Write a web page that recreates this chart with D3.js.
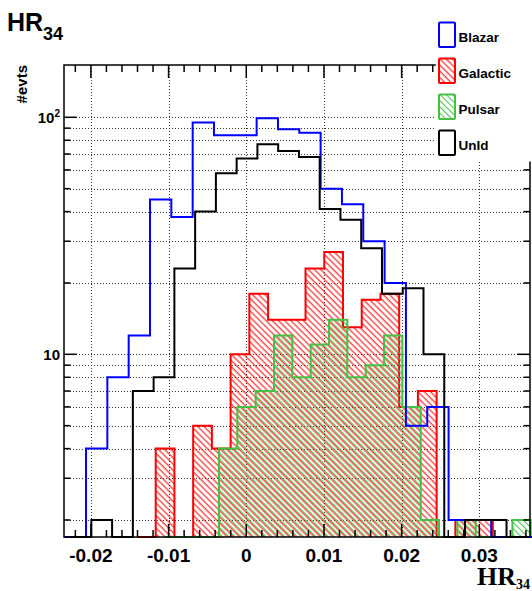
<!DOCTYPE html>
<html><head><meta charset="utf-8">
<script src="https://cdn.jsdelivr.net/npm/d3@7"></script>
<style>
html,body{margin:0;padding:0;background:#fff;}
svg{display:block;}
text{font-family:"Liberation Sans",Arial,Helvetica,sans-serif;font-weight:bold;}
</style></head>
<body>
<script>
// ---- data ----
const xTickValues = [-0.02, -0.01, 0, 0.01, 0.02, 0.03];
const xTickLabels = ["-0.02", "-0.01", "0", "0.01", "0.02", "0.03"];
const yMajorTicks = [10, 100];
const yMajorLabels = ["10", "10"];
const yMajorSup = ["", "2"];
const seriesNames = ["Blazar", "Galactic", "Pulsar", "UnId"];

// each histogram has its own binning: first low edge, bin width, counts
const blazarStart = -0.02337, blazarWidth = 0.002745;
const blazarCounts = [0, 4, 8, 12, 45, 38, 95, 84, 84, 99, 89, 86, 50, 43, 30, 20, 5, 6, 2, 2, 0, 0];

const galacticStart = -0.014067, galacticWidth = 0.0024106;
const galacticCounts = [0, 4, 0, 5, 4, 10, 18, 14, 14, 23, 27, 13, 17, 18, 6, 7, 0, 2, 2];

const pulsarStart = -0.010592, pulsarWidth = 0.0023604;
const pulsarCounts = [0, 0, 0, 4, 6, 7, 12, 8, 11, 14, 8, 9, 12, 6, 2, 0, 2, 0, 0, 2];

const unidStart = -0.022613, unidWidth = 0.002672;
const unidCounts = [0, 2, 0, 7, 8, 23, 40, 58, 67, 77, 72, 68, 41, 37, 28, 18, 19, 10, 0, 2, 2, 0];

// ---- layout ----
const W = 532, H = 591;
const L = 64, R = 530, T = 65, B = 537;
const xDomain = [-0.02346, 0.03652];
const yDomain = [1.695, 166.2];

const svg = d3.select("body").append("svg").attr("width", W).attr("height", H);
svg.append("rect").attr("width", W).attr("height", H).attr("fill", "#fff");

const x = d3.scaleLinear().domain(xDomain).range([L, R]);
const y = d3.scaleLog().domain(yDomain).range([B, T]);

const defs = svg.append("defs");
function hatch(id, color, off) {
  const p = defs.append("pattern").attr("id", id).attr("patternUnits", "userSpaceOnUse")
    .attr("width", 4.4).attr("height", 10).attr("patternTransform", "rotate(-45)");
  p.append("line").attr("x1", off).attr("x2", off).attr("y1", -1).attr("y2", 11)
    .attr("stroke", color).attr("stroke-width", 1);
}
const RED = "#ff0000", GREEN = "#44c044", BLUE = "#0000ff", BLACK = "#000000";
hatch("hRed", RED, 1.0);
hatch("hGreen", GREEN, 2.3);

// ---- grid ----
const grid = svg.append("g").attr("stroke", "#333").attr("stroke-width", 1).attr("stroke-dasharray", "1,2");
const yGridVals = [2,3,4,5,6,7,8,9,10,20,30,40,50,60,70,80,90,100];
const legendLeft = 435, legendBottom = 162;
yGridVals.forEach(v => {
  const yy = Math.round(y(v)) + 0.5;
  const xr = yy < legendBottom ? legendLeft : R;
  grid.append("line").attr("x1", L).attr("x2", xr).attr("y1", yy).attr("y2", yy);
});
xTickValues.forEach(v => {
  const xx = Math.round(x(v)) + 0.5;
  const yt = xx > legendLeft ? legendBottom : T;
  grid.append("line").attr("x1", xx).attr("x2", xx).attr("y1", yt).attr("y2", B);
});

// ---- histograms ----
function histPath(start, width, counts) {
  const yc = c => (c >= yDomain[0] ? Math.max(T, y(c)) : B);
  let d = `M${x(start)},${B}`;
  counts.forEach((c, i) => {
    d += `L${x(start + i * width)},${yc(c)}L${x(start + (i + 1) * width)},${yc(c)}`;
  });
  d += `L${x(start + counts.length * width)},${B}`;
  return d;
}
const hg = svg.append("g");
hg.append("path").attr("d", histPath(galacticStart, galacticWidth, galacticCounts) + "Z")
  .attr("fill", "url(#hRed)").attr("stroke", "none");
hg.append("path").attr("d", histPath(galacticStart, galacticWidth, galacticCounts))
  .attr("fill", "none").attr("stroke", RED).attr("stroke-width", 2);
hg.append("path").attr("d", histPath(pulsarStart, pulsarWidth, pulsarCounts) + "Z")
  .attr("fill", "url(#hGreen)").attr("stroke", "none");
hg.append("path").attr("d", histPath(pulsarStart, pulsarWidth, pulsarCounts))
  .attr("fill", "none").attr("stroke", GREEN).attr("stroke-width", 2);
hg.append("path").attr("d", histPath(blazarStart, blazarWidth, blazarCounts))
  .attr("fill", "none").attr("stroke", BLUE).attr("stroke-width", 2);
hg.append("path").attr("d", histPath(unidStart, unidWidth, unidCounts))
  .attr("fill", "none").attr("stroke", BLACK).attr("stroke-width", 2);

// ---- frame and ticks ----
const fr = svg.append("g").attr("stroke", "#000").attr("stroke-width", 1.5).attr("fill", "none");
fr.append("rect").attr("x", L).attr("y", T).attr("width", R - L).attr("height", B - T);
const minorX = d3.range(-0.022, 0.0365, 0.002).filter(v => !xTickValues.some(t => Math.abs(t - v) < 1e-6));
minorX.forEach(v => {
  const xx = x(v);
  fr.append("line").attr("x1", xx).attr("x2", xx).attr("y1", B).attr("y2", B - 7);
  fr.append("line").attr("x1", xx).attr("x2", xx).attr("y1", T).attr("y2", T + 7);
});
xTickValues.forEach(v => {
  const xx = x(v);
  fr.append("line").attr("x1", xx).attr("x2", xx).attr("y1", B).attr("y2", B - 13);
  fr.append("line").attr("x1", xx).attr("x2", xx).attr("y1", T).attr("y2", T + 13);
});
yGridVals.forEach(v => {
  const yy = y(v);
  const len = yMajorTicks.includes(v) ? 13 : 6.5;
  fr.append("line").attr("x1", L).attr("x2", L + len).attr("y1", yy).attr("y2", yy);
  fr.append("line").attr("x1", R).attr("x2", R - len).attr("y1", yy).attr("y2", yy);
});

// ---- tick labels ----
xTickValues.forEach((v, i) => {
  svg.append("text").attr("x", x(v)).attr("y", 561.5).attr("text-anchor", "middle")
    .attr("font-size", 19).text(xTickLabels[i]);
});
yMajorTicks.forEach((v, i) => {
  const t = svg.append("text").attr("x", 60).attr("y", y(v) + 5.5).attr("text-anchor", "end")
    .attr("font-size", 15);
  t.append("tspan").text(yMajorLabels[i]);
  if (yMajorSup[i]) t.append("tspan").attr("font-size", 10).attr("dy", -6).text(yMajorSup[i]);
});

// ---- axis titles ----
svg.append("text").attr("transform", "translate(27,65) rotate(-90)").attr("text-anchor", "end")
  .attr("font-size", 15).text("#evts");
const xt = svg.append("text").attr("x", 530).attr("y", 585).attr("text-anchor", "end")
  .style("font-family", "'Liberation Serif','Times New Roman',serif").attr("font-size", 26);
xt.append("tspan").text("HR");
xt.append("tspan").attr("font-size", 14).attr("dy", 4).text("34");

// ---- title ----
const tt = svg.append("text").attr("x", 7).attr("y", 31).attr("font-size", 25);
tt.append("tspan").text("HR");
tt.append("tspan").attr("font-size", 18).attr("dy", 9).text("34");

// ---- legend ----
svg.append("rect").attr("x", legendLeft + 0.8).attr("y", 0).attr("width", W - legendLeft).attr("height", legendBottom - 0.5)
  .attr("fill", "#fff");
const legStyles = [
  {stroke: BLUE, fill: "#fff"},
  {stroke: RED, fill: "url(#hRed)"},
  {stroke: GREEN, fill: "url(#hGreen)"},
  {stroke: BLACK, fill: "#fff"}
];
seriesNames.forEach((name, i) => {
  const top = 22.5 + i * 36;
  svg.append("rect").attr("x", 439).attr("y", top).attr("width", 16).attr("height", 24.5)
    .attr("fill", legStyles[i].fill).attr("stroke", legStyles[i].stroke).attr("stroke-width", 2)
    .attr("rx", 1);
  svg.append("text").attr("x", 458.5).attr("y", top + 19.3).attr("font-size", 13.5).text(name);
});
</script>
</body></html>
